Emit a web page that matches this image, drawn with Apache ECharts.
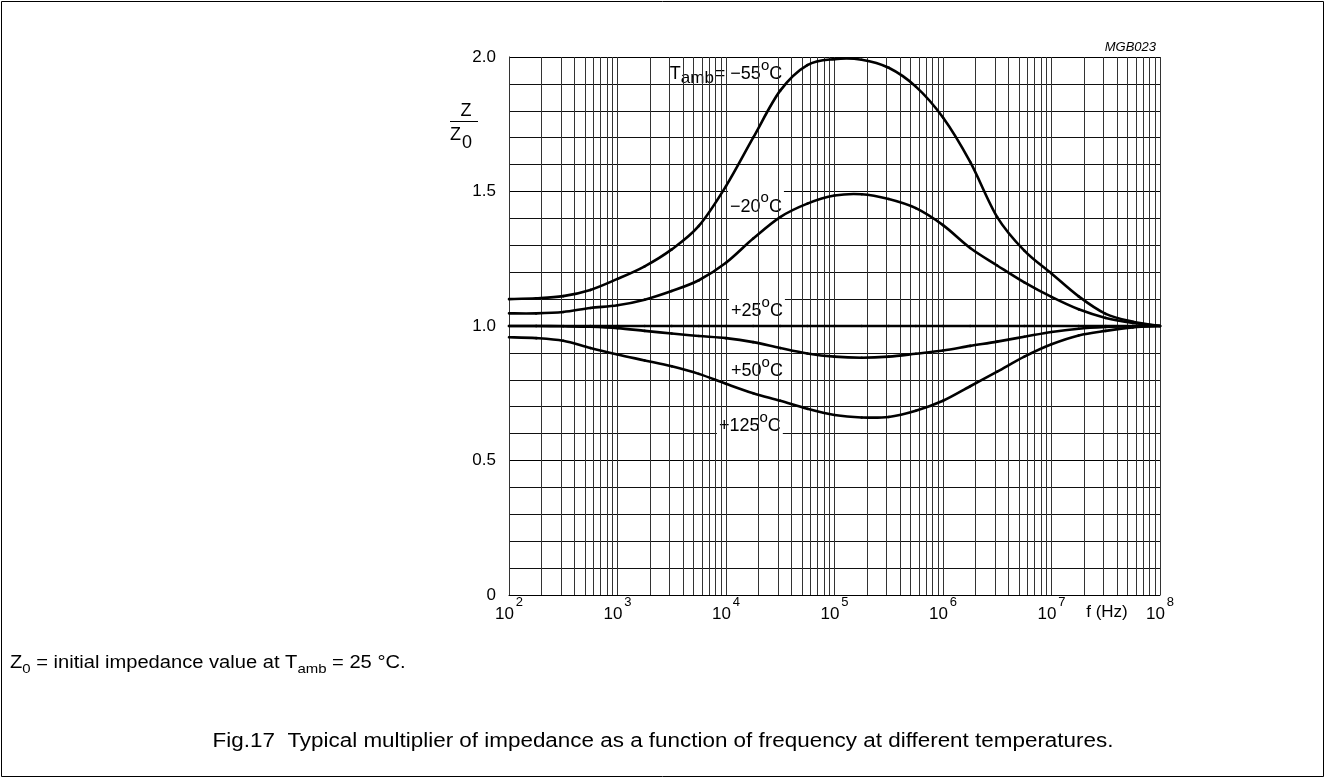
<!DOCTYPE html>
<html>
<head>
<meta charset="utf-8">
<title>Impedance multiplier vs frequency</title>
<script src="https://cdn.jsdelivr.net/npm/echarts@6/dist/echarts.min.js"></script>
<style>
  html, body { margin: 0; padding: 0; background: #fff; }
  #chart { width: 1326px; height: 779px; }
</style>
</head>
<body>
<div id="chart"></div>
<script>
// Frequencies (Hz) at quarter-decade steps, 10^2 .. 10^8
const frequencies = [
  100, 178, 316, 562,
  1000, 1780, 3160, 5620,
  10000, 17800, 31600, 56200,
  100000, 178000, 316000, 562000,
  1000000, 1780000, 3160000, 5620000,
  10000000, 17800000, 31600000, 56200000,
  100000000
];

// Z/Z0 at each frequency, one list per ambient temperature
const zMinus55 = [
  1.100, 1.103, 1.111, 1.134,
  1.175, 1.222, 1.285, 1.372,
  1.520, 1.700, 1.875, 1.970,
  1.992, 1.990, 1.960, 1.890,
  1.775, 1.610, 1.405, 1.280,
  1.195, 1.110, 1.045, 1.016,
  1.000
];
const zMinus20 = [
  1.047, 1.047, 1.052, 1.067,
  1.077, 1.098, 1.130, 1.170,
  1.235, 1.325, 1.405, 1.455,
  1.485, 1.490, 1.472, 1.438,
  1.375, 1.290, 1.225, 1.162,
  1.108, 1.062, 1.030, 1.011,
  1.000
];
const zPlus25 = [
  1.000, 1.000, 1.000, 1.000,
  1.000, 1.000, 1.000, 1.000,
  1.000, 1.000, 1.000, 1.000,
  1.000, 1.000, 1.000, 1.000,
  1.000, 1.000, 1.000, 1.000,
  1.000, 1.000, 1.000, 1.000,
  1.000
];
const zPlus50 = [
  1.000, 1.000, 0.999, 0.997,
  0.992, 0.982, 0.972, 0.963,
  0.955, 0.940, 0.918, 0.898,
  0.886, 0.882, 0.886, 0.897,
  0.909, 0.926, 0.942, 0.960,
  0.978, 0.990, 0.996, 0.999,
  1.000
];
const zPlus125 = [
  0.958, 0.955, 0.945, 0.918,
  0.894, 0.872, 0.850, 0.822,
  0.785, 0.750, 0.722, 0.692,
  0.669, 0.660, 0.662, 0.685,
  0.722, 0.776, 0.830, 0.886,
  0.932, 0.965, 0.982, 0.995,
  1.000
];

// Curve labels: anchor [frequency, Z/Z0] and rich text
const curveLabelAnchors = [
  [10000, 1.949], [18900, 1.456], [19300, 1.068], [19300, 0.846], [16600, 0.641]
];
const curveLabelTexts = [
  '{m|T}{sub|amb}{m|= \u221255}{sup|o}{m|C}',
  '{m|\u221220}{sup|o}{m|C}',
  '{m|+25}{sup|o}{m|C}',
  '{m|+50}{sup|o}{m|C}',
  '{m|+125}{sup|o}{m|C}'
];

// Axis ranges and ticks
const freqDecades = [2, 3, 4, 5, 6, 7, 8];
const decadeMultipliers = [1, 2, 3, 4, 5, 6, 7, 8, 9];
const yTicks = [0, 0.5, 1.0, 1.5, 2.0];

const FONT = '"Liberation Sans", Arial, Helvetica, sans-serif';

// vertical log grid lines: 1..9 x 10^k within the axis range
const verticalGrid = [];
freqDecades.slice(0, -1).forEach(function (d) {
  decadeMultipliers.forEach(function (m) { verticalGrid.push(m * Math.pow(10, d)); });
});
verticalGrid.push(Math.pow(10, freqDecades[freqDecades.length - 1]));

function pairs(values) {
  return frequencies.map(function (f, i) { return [f, values[i]]; });
}

const chart = echarts.init(document.getElementById('chart'), null, { renderer: 'canvas' });

// Each curve is drawn as a Catmull-Rom spline through its points,
// one cubic segment per data interval, positioned through the axes.
function curveSeries(name, values) {
  const pts = pairs(values);
  return {
    name: name, type: 'custom', data: pts, z: 5, silent: true, animation: false,
    encode: { x: 0, y: 1 },
    renderItem: function (params, api) {
      const i = params.dataIndex;
      if (i === 0) return null;
      const n = pts.length;
      const p0 = api.coord(pts[Math.max(i - 2, 0)]);
      const p1 = api.coord(pts[i - 1]);
      const p2 = api.coord(pts[i]);
      const p3 = api.coord(pts[Math.min(i + 1, n - 1)]);
      return {
        type: 'bezierCurve',
        shape: {
          x1: p1[0], y1: p1[1], x2: p2[0], y2: p2[1],
          cpx1: p1[0] + (p2[0] - p0[0]) / 6, cpy1: p1[1] + (p2[1] - p0[1]) / 6,
          cpx2: p2[0] - (p3[0] - p1[0]) / 6, cpy2: p2[1] - (p3[1] - p1[1]) / 6
        },
        style: { stroke: '#000', lineWidth: 2.6, fill: null, lineCap: 'round' }
      };
    }
  };
}

const labelRich = {
  m: { fontFamily: FONT, fontSize: 18, color: '#000', lineHeight: 25, verticalAlign: 'bottom', textBorderWidth: 0 },
  sup: { fontFamily: FONT, fontSize: 15, color: '#000', lineHeight: 10, verticalAlign: 'top', textBorderWidth: 0 },
  sub: { fontFamily: FONT, fontSize: 17, color: '#000', lineHeight: 10, verticalAlign: 'top', padding: [12, 1, 0, 0], textBorderWidth: 0 }
};

const option = {
  backgroundColor: '#fff',
  animation: false,
  grid: { left: 509, right: 166, top: 57, bottom: 184, containLabel: false },
  xAxis: {
    type: 'log', logBase: 10,
    min: Math.pow(10, freqDecades[0]), max: Math.pow(10, freqDecades[freqDecades.length - 1]),
    axisLine: { show: true, onZero: false, lineStyle: { color: '#000', width: 1 } },
    axisTick: { show: false },
    splitLine: { show: false },
    axisLabel: {
      margin: 1,
      showMaxLabel: true, showMinLabel: true,
      formatter: function (v) {
        return '{b|10}{s|' + Math.round(Math.log10(v)) + '}';
      },
      rich: {
        b: { fontFamily: FONT, fontSize: 17, color: '#000', lineHeight: 27, verticalAlign: 'bottom' },
        s: { fontFamily: FONT, fontSize: 13, color: '#000', verticalAlign: 'top', padding: [0, 0, 0, 2] }
      }
    }
  },
  yAxis: {
    type: 'value', min: yTicks[0], max: yTicks[yTicks.length - 1], interval: 0.5,
    axisLine: { show: true, lineStyle: { color: '#000', width: 1 } },
    axisTick: { show: false },
    axisLabel: {
      margin: 13, fontFamily: FONT, fontSize: 17, color: '#000',
      formatter: function (v) { return v === 0 ? '0' : v.toFixed(1); }
    },
    splitLine: { show: true, lineStyle: { color: '#000', width: 1 } },
    minorTick: { show: false, splitNumber: 5 },
    minorSplitLine: { show: true, lineStyle: { color: '#111', width: 1 } }
  },
  series: [
    {
      name: 'grid', type: 'line', data: [], silent: true, z: 1,
      markLine: {
        silent: true, symbol: 'none', animation: false,
        label: { show: false },
        lineStyle: { color: '#333', width: 1, type: 'solid' },
        data: verticalGrid.map(function (f) { return { xAxis: f }; })
      }
    },
    curveSeries('+25', zPlus25),
    curveSeries('-55', zMinus55),
    curveSeries('-20', zMinus20),
    curveSeries('+50', zPlus50),
    curveSeries('+125', zPlus125),
    {
      name: 'labels', type: 'scatter', symbolSize: 0, z: 4, silent: true,
      itemStyle: { opacity: 1 },
      data: curveLabelAnchors.map(function (p, i) {
        return {
          value: p,
          label: {
            show: true, position: 'inside',
            color: '#000', textBorderWidth: 0, opacity: 1,
            formatter: curveLabelTexts[i],
            backgroundColor: '#fff', padding: [0, 2, 0, 2],
            rich: labelRich
          }
        };
      })
    }
  ],
  graphic: [
    // page frame
    { type: 'rect', silent: true, z: 10,
      shape: { x: 1.5, y: 1.5, width: 1322, height: 775 },
      style: { fill: null, stroke: '#000', lineWidth: 1 } },
    // drawing code
    { type: 'text', silent: true, right: 1326 - 1156, top: 41,
      style: { text: 'MGB023', font: 'italic 13px ' + FONT, fill: '#000' } },
    // y-axis quantity Z / Z0
    { type: 'text', silent: true, x: 466, y: 120,
      style: { text: 'Z', font: '18px ' + FONT, fill: '#000', align: 'center', verticalAlign: 'bottom' } },
    { type: 'line', silent: true,
      shape: { x1: 450, y1: 121.5, x2: 478, y2: 121.5 },
      style: { stroke: '#000', lineWidth: 1 } },
    { type: 'text', silent: true, x: 450, y: 126,
      style: {
        text: '{z|Z}{s|0}', fill: '#000',
        rich: {
          z: { fontFamily: FONT, fontSize: 18, verticalAlign: 'top' },
          s: { fontFamily: FONT, fontSize: 18, lineHeight: 26, verticalAlign: 'bottom', padding: [0, 0, 0, 1] }
        }
      } },
    // x-axis quantity
    { type: 'text', silent: true, x: 1107, y: 612,
      style: { text: 'f (Hz)', font: '17px ' + FONT, fill: '#000', align: 'center', verticalAlign: 'middle' } },
    // footnote
    { type: 'text', silent: true, x: 10, y: 654, scaleX: 1.15,
      style: {
        text: '{t|Z}{s|0}{t| = initial impedance value at T}{s|amb}{t| = 25 \u00B0C.}',
        fill: '#000',
        rich: {
          t: { fontFamily: FONT, fontSize: 17.5, lineHeight: 22, verticalAlign: 'top' },
          s: { fontFamily: FONT, fontSize: 13, verticalAlign: 'bottom' }
        }
      } },
    // figure caption
    { type: 'text', silent: true, x: 663, y: 742, scaleX: 1.15,
      style: {
        text: 'Fig.17  Typical multiplier of impedance as a function of frequency at different temperatures.',
        font: '19.5px ' + FONT, fill: '#000', align: 'center', verticalAlign: 'middle'
      } }
  ]
};

chart.setOption(option);
</script>
</body>
</html>
